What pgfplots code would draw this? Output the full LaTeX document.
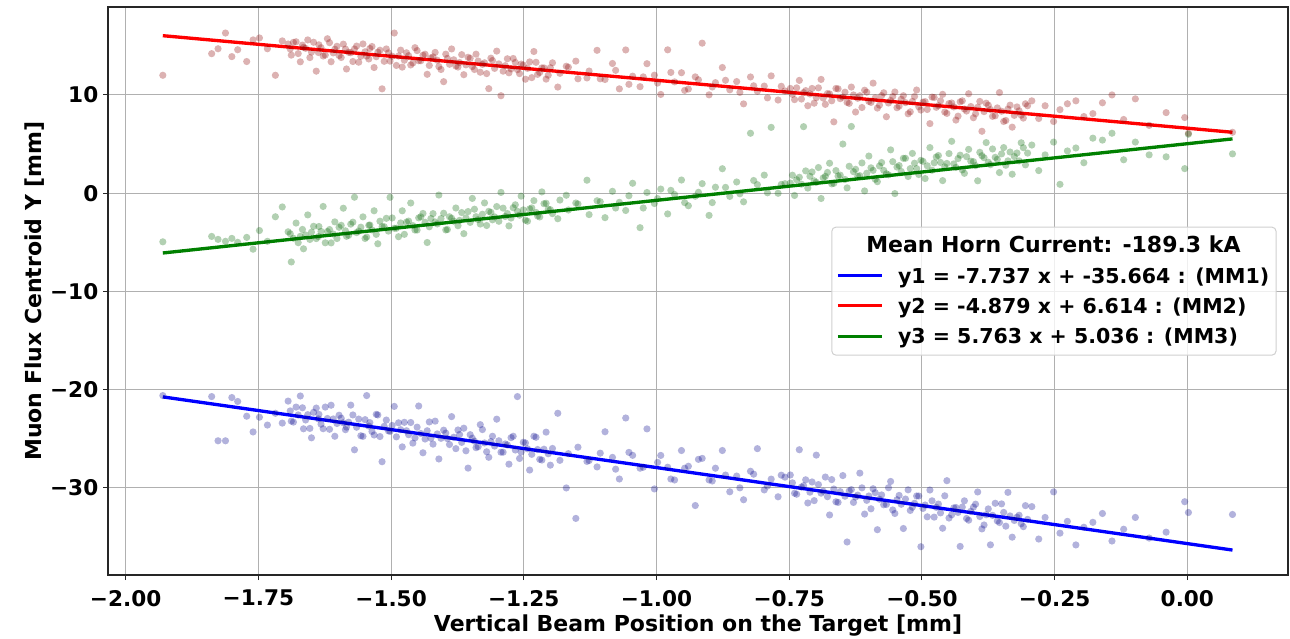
\documentclass[border=0pt]{standalone}
\usepackage{fontspec}
\setmainfont{DejaVu Sans}
\usepackage{pgfplots}
\usepackage{pgfplotstable}
\pgfplotsset{compat=1.18}
\definecolor{dkblue}{HTML}{00008B}
\definecolor{dkred}{HTML}{8B0000}
\definecolor{dkgreen}{HTML}{006400}
\definecolor{fitgreen}{HTML}{008000}
\definecolor{gridgray}{HTML}{B0B0B0}
\pgfplotstableread{
x b r g
-1.930 -20.6 12.0 -4.95
-1.838 -20.7 14.2 -4.4
-1.826 -25.2 14.7 -4.7
-1.812 -25.2 16.3 -4.9
-1.800 -20.8 13.9 -4.6
-1.789 -21.2 14.6 -5.0
-1.772 -22.7 13.4 -4.5
-1.760 -24.3 15.6 -5.7
-1.748 -22.8 15.8 -3.8
-1.733 -23.6 14.7 -4.9
-1.718 -22.4 12.0 -2.4
-1.705 -23.4 15.5 -1.4
-1.694 -21.16 15.18 -3.93
-1.688 -23.20 14.05 -7.00
-1.679 -21.77 15.41 -3.04
-1.671 -20.64 13.37 -4.39
-1.665 -23.98 14.84 -5.66
-1.657 -22.54 15.60 -2.21
-1.650 -24.90 14.36 -3.97
-1.641 -21.87 12.42 -4.62
-1.636 -22.51 15.10 -3.39
-1.628 -23.97 13.96 -1.35
-1.620 -22.93 15.72 -3.90
-1.613 -21.58 13.38 -5.06
-1.606 -24.74 14.65 -2.92
-1.598 -22.60 14.01 -3.47
-1.590 -23.37 15.17 -1.53
-1.584 -23.81 12.64 -4.39
-1.576 -21.57 14.30 -3.15
-1.569 -26.12 14.67 -0.41
-1.561 -22.99 13.33 -3.86
-1.553 -24.75 15.19 -2.41
-1.546 -20.60 13.96 -4.47
-1.540 -23.35 14.73 -3.24
-1.532 -24.61 12.79 -1.79
-1.525 -22.57 14.35 -5.15
-1.517 -27.33 10.62 -3.41
-1.509 -23.09 14.68 -2.56
-1.502 -24.24 13.44 -0.42
-1.494 -21.70 16.30 -3.57
-1.486 -23.37 13.96 -4.43
-1.479 -25.82 12.83 -1.79
-1.471 -24.18 14.29 -2.94
-1.463 -23.34 13.05 -1.00
-1.455 -24.91 14.81 -3.75
-1.448 -21.66 13.48 -2.51
-1.440 -26.42 14.04 -2.06
-1.432 -24.18 12.10 -5.02
-1.425 -24.94 13.77 -2.58
-1.417 -23.20 14.33 -2.93
-1.410 -27.05 12.89 -0.19
-1.401 -24.12 11.35 -2.04
-1.394 -24.98 13.72 -3.70
-1.386 -22.74 14.68 -2.55
-1.378 -26.00 12.94 -1.51
-1.371 -24.56 13.30 -2.77
-1.363 -23.92 12.06 -4.12
-1.355 -27.98 13.83 -1.87
-1.347 -24.94 12.89 -0.53
-1.340 -25.90 14.15 -2.39
-1.332 -23.56 12.31 -3.14
-1.324 -25.42 13.27 -0.99
-1.316 -26.88 10.64 -1.85
-1.309 -24.74 13.50 -2.71
-1.301 -23.00 14.46 -1.36
-1.293 -26.36 9.92 0.08
-1.285 -25.52 12.98 -2.37
-1.278 -27.58 12.25 -3.33
-1.270 -24.74 13.71 -1.48
-1.262 -20.70 12.57 -1.84
-1.255 -26.35 13.14 -0.30
-1.247 -25.42 11.60 -2.75
-1.239 -28.18 13.36 -1.60
-1.231 -24.74 14.42 -0.76
-1.224 -26.09 12.09 -2.32
-1.216 -27.16 12.75 0.13
-1.208 -24.32 11.61 -1.03
-1.200 -27.68 12.77 -1.68
-1.186 -22.40 10.80 -2.60
-1.170 -30.00 12.92 -0.21
-1.152 -33.10 13.44 -1.00
-1.131 -27.30 11.73 1.32
-1.112 -27.86 14.54 -0.77
-1.097 -24.28 11.57 -2.49
-1.083 -26.89 13.20 0.19
-1.070 -29.09 10.62 -0.93
-1.058 -22.88 14.58 -1.76
-1.045 -26.68 11.91 1.01
-1.031 -27.99 10.84 -3.51
-1.018 -23.99 13.18 0.07
-1.004 -30.10 12.01 -1.05
-0.992 -26.69 10.05 0.42
-0.979 -27.89 14.59 -2.11
-0.966 -29.19 11.33 -0.13
-0.953 -26.19 12.26 1.34
-0.940 -27.79 10.60 -1.28
-0.927 -31.79 11.84 -0.31
-0.914 -26.99 15.27 0.97
-0.901 -29.19 10.01 -2.26
-0.889 -27.99 11.25 0.61
-0.876 -26.19 12.79 2.49
-0.862 -30.39 10.52 -0.33
-0.849 -28.79 11.36 1.14
-0.836 -31.20 9.09 -0.88
-0.823 -28.30 11.83 6.10
-0.810 -26.00 10.37 0.87
-0.797 -30.20 10.90 1.84
-0.784 -29.10 11.94 6.70
-0.771 -30.90 9.48 -0.01
-0.758 -28.90 10.41 0.97
-0.748 -28.68 10.66 1.03
-0.740 -30.54 9.52 -0.23
-0.731 -26.11 11.48 1.62
-0.723 -29.77 10.24 6.77
-0.715 -31.53 8.90 0.52
-0.707 -29.39 10.66 2.16
-0.699 -26.66 9.72 1.11
-0.690 -30.53 11.58 -0.54
-0.682 -28.89 9.04 1.71
-0.674 -32.75 10.10 3.05
-0.666 -30.11 7.26 1.00
-0.658 -31.47 10.62 1.74
-0.649 -28.74 9.78 5.00
-0.641 -35.50 9.24 0.54
-0.633 -30.17 10.80 6.79
-0.625 -30.93 8.26 2.43
-0.617 -28.49 9.92 1.78
-0.608 -32.66 10.48 0.23
-0.600 -30.82 9.34 3.78
-0.592 -30.08 11.20 2.32
-0.584 -34.25 8.66 1.17
-0.576 -30.71 9.92 3.12
-0.567 -31.68 7.78 1.97
-0.559 -29.34 9.44 4.41
-0.551 -32.60 10.30 -0.04
-0.543 -30.76 8.86 2.81
-0.535 -34.13 9.92 3.55
-0.526 -30.19 8.08 1.70
-0.518 -31.96 9.34 4.05
-0.510 -30.82 10.50 2.50
-0.502 -35.98 8.46 3.34
-0.494 -31.74 9.32 1.49
-0.485 -30.21 7.08 4.64
-0.477 -32.97 9.74 3.09
-0.469 -31.64 8.90 3.83
-0.461 -34.10 10.06 1.28
-0.453 -29.26 8.12 3.03
-0.444 -32.73 9.18 5.28
-0.436 -31.99 7.44 2.62
-0.428 -35.95 9.30 3.87
-0.420 -31.31 8.56 2.02
-0.412 -33.28 10.12 4.46
-0.403 -31.95 7.68 3.21
-0.395 -30.41 8.74 1.26
-0.387 -34.17 6.30 3.81
-0.379 -32.73 9.16 5.15
-0.371 -35.79 8.52 2.90
-0.362 -31.56 7.88 3.65
-0.354 -33.52 10.24 2.10
-0.346 -32.49 7.30 4.64
-0.338 -30.45 8.56 3.29
-0.330 -35.01 6.72 1.93
-0.321 -32.98 8.78 4.09
-0.313 -33.64 7.94 5.13
-0.305 -31.80 9.10 2.88
-0.293 -31.9 9.4 4.9
-0.280 -35.2 7.6 2.3
-0.268 -33.0 8.9 3.9
-0.252 -30.4 7.3 5.2
-0.240 -34.6 8.5 0.9
-0.226 -33.4 9.1 4.3
-0.210 -35.8 9.4 4.6
-0.195 -34.0 7.8 3.1
-0.178 -33.5 8.1 5.6
-0.160 -32.6 9.2 5.4
-0.142 -35.4 10.0 6.1
-0.120 -34.2 7.5 3.4
-0.098 -33.0 9.6 5.2
-0.072 -35.1 6.9 3.9
-0.040 -34.5 8.2 3.7
-0.005 -31.4 7.7 2.5
0.002 -32.5 6.1 6.0
0.085 -32.7 6.2 4.0
-1.690 -22.16 14.68 -4.13
-1.684 -23.30 15.35 -4.59
-1.675 -22.57 14.21 -5.04
-1.667 -21.84 15.07 -3.69
-1.661 -23.08 14.74 -4.26
-1.653 -23.94 13.80 -4.71
-1.646 -22.30 15.36 -3.37
-1.637 -22.97 14.32 -4.42
-1.632 -23.51 14.80 -3.89
-1.624 -21.77 14.06 -5.05
-1.616 -24.03 15.32 -3.70
-1.609 -22.98 14.28 -4.16
-1.602 -23.44 14.95 -4.62
-1.594 -22.90 13.81 -3.27
-1.586 -24.07 14.67 -3.83
-1.580 -23.31 14.34 -4.29
-1.572 -22.57 13.40 -2.95
-1.565 -23.82 14.97 -4.01
-1.557 -24.69 13.93 -3.46
-1.549 -23.05 14.39 -4.61
-1.542 -23.70 13.66 -3.27
-1.536 -24.25 14.93 -3.74
-1.528 -22.51 13.89 -4.19
-1.521 -24.77 14.55 -2.85
-1.513 -23.73 13.42 -3.41
-1.505 -24.19 14.28 -3.86
-1.498 -23.64 13.94 -2.52
-1.490 -24.80 13.00 -3.57
-1.482 -24.07 14.56 -3.03
-1.475 -23.32 13.53 -4.19
-1.467 -24.58 13.99 -2.84
-1.459 -25.44 13.25 -3.30
-1.451 -23.81 14.51 -3.75
-1.444 -24.46 13.48 -2.41
-1.436 -25.02 14.14 -2.96
-1.428 -23.28 13.00 -3.42
-1.421 -25.54 13.87 -2.08
-1.413 -24.50 13.53 -3.13
-1.406 -24.95 12.59 -2.59
-1.397 -24.42 14.15 -3.74
-1.390 -25.58 13.12 -2.40
-1.382 -24.84 13.58 -2.85
-1.374 -24.10 12.84 -3.31
-1.367 -25.36 14.10 -1.97
-1.359 -26.22 13.06 -2.52
-1.351 -24.58 13.73 -2.97
-1.343 -25.24 12.59 -1.63
-1.336 -25.80 13.45 -2.69
-1.328 -24.06 13.11 -2.14
-1.320 -26.32 12.17 -3.29
-1.312 -25.28 13.74 -1.95
-1.305 -25.74 12.70 -2.41
-1.297 -25.20 13.16 -2.86
-1.289 -26.36 12.42 -1.52
-1.281 -25.62 13.68 -2.07
-1.274 -24.88 12.65 -2.53
-1.266 -26.14 13.31 -1.18
-1.258 -27.00 12.17 -2.24
-1.251 -25.35 13.04 -1.70
-1.243 -26.02 12.70 -2.85
-1.235 -26.58 11.76 -1.50
-1.227 -24.84 13.32 -1.96
-1.220 -27.09 12.29 -2.42
-1.212 -26.06 12.75 -1.07
-1.204 -26.52 12.01 -1.63
-1.196 -25.98 13.27 -2.08
-1.182 -27.19 12.20 -0.70
-1.166 -26.51 12.82 -1.71
-1.148 -25.85 11.64 -1.10
-1.127 -27.21 12.43 -2.18
-1.106 -26.46 11.64 -0.87
-1.077 -28.09 12.50 -1.51
-1.052 -26.38 11.08 -0.26
-1.025 -27.89 11.84 -1.51
-0.998 -27.40 11.21 -0.55
-0.973 -29.09 12.29 0.29
-0.947 -27.99 10.46 -0.96
-0.921 -27.09 11.54 0.09
-0.895 -29.29 10.81 -0.96
-0.870 -28.69 11.49 0.59
-0.843 -29.99 10.26 -0.06
-0.817 -28.60 10.93 1.29
-0.791 -29.80 9.70 0.04
-0.765 -28.70 10.88 0.89
-0.744 -29.48 10.06 1.83
-0.736 -30.64 10.72 1.37
-0.727 -29.91 9.58 0.92
-0.719 -29.17 10.44 2.27
-0.711 -30.43 10.10 1.72
-0.703 -31.29 9.16 1.26
-0.695 -29.66 10.72 2.61
-0.686 -30.33 9.68 1.56
-0.678 -30.89 10.14 2.11
-0.670 -29.15 9.40 0.95
-0.662 -31.41 10.66 2.30
-0.654 -30.37 9.62 1.84
-0.645 -30.84 10.28 1.40
-0.637 -30.30 9.14 2.74
-0.629 -31.47 10.00 2.19
-0.621 -30.73 9.66 1.73
-0.613 -29.99 8.72 3.08
-0.604 -31.26 10.28 2.03
-0.596 -32.12 9.24 2.58
-0.588 -30.48 9.70 1.42
-0.580 -31.15 8.96 2.77
-0.572 -31.71 10.22 2.32
-0.563 -29.98 9.18 1.87
-0.555 -32.24 9.84 3.21
-0.547 -31.20 8.70 2.66
-0.539 -31.66 9.56 2.21
-0.531 -31.13 9.22 3.55
-0.522 -32.29 8.28 2.50
-0.514 -31.56 9.84 3.05
-0.506 -30.82 8.80 1.90
-0.498 -32.08 9.26 3.24
-0.490 -32.94 8.52 2.79
-0.481 -31.31 9.78 2.34
-0.473 -31.97 8.74 3.69
-0.465 -32.54 9.40 3.13
-0.457 -30.80 8.26 2.68
-0.449 -33.06 9.12 4.03
-0.440 -32.03 8.78 2.98
-0.432 -32.49 7.84 3.52
-0.424 -31.95 9.40 2.37
-0.416 -33.11 8.36 3.72
-0.408 -32.38 8.82 3.26
-0.399 -31.65 8.08 2.81
-0.391 -32.91 9.34 4.16
-0.383 -33.77 8.30 3.61
-0.375 -32.13 8.96 3.15
-0.367 -32.79 7.82 4.50
-0.358 -33.36 8.68 3.45
-0.350 -31.62 8.34 4.00
-0.342 -33.89 7.40 2.84
-0.334 -32.85 8.96 4.19
-0.326 -33.31 7.92 3.73
-0.317 -32.78 8.38 3.29
-0.309 -33.94 7.64 4.63
-0.301 -33.20 8.90 4.08
}\data
\begin{document}
\begin{tikzpicture}
\begin{axis}[
  scale only axis, width=885pt, height=426pt,
  xmin=-2.0333, xmax=0.1896, ymin=-38.86, ymax=18.95,
  xtick={-2,-1.75,-1.5,-1.25,-1,-0.75,-0.5,-0.25,0},
  xticklabels={−2.00,−1.75,−1.50,−1.25,−1.00,−0.75,−0.50,−0.25,0.00},
  ytick={-30,-20,-10,0,10},
  yticklabels={−30,−20,−10,0,10},
  grid=major, grid style={color=gridgray, line width=0.75pt},
  axis line style={black!85, line width=0.8pt},
  tick align=outside, tick pos=left, major tick length=3.75pt,
  tick style={black!85, line width=0.8pt},
  ticklabel style={font=\bfseries\fontsize{16.2}{19}\selectfont},
  xticklabel style={yshift=-4pt},
  xlabel={Vertical Beam Position on the Target [mm]},
  ylabel={Muon Flux Centroid Y [mm]},
  xlabel style={font=\bfseries\fontsize{16.5}{19}\selectfont, at={(axis description cs:0.5,-0.1000)}, anchor=base},
  ylabel style={font=\bfseries\fontsize{16.5}{19}\selectfont, at={(axis description cs:-0.0565,0.5)}, anchor=base, rotate=0},
  clip=true,
]
\addplot[only marks, mark=*, mark size=2.7pt, mark options={draw opacity=0, fill=dkblue, fill opacity=0.3}] table[x=x,y=b]{\data};
\addplot[only marks, mark=*, mark size=2.7pt, mark options={draw opacity=0, fill=dkred, fill opacity=0.3}] table[x=x,y=r]{\data};
\addplot[only marks, mark=*, mark size=2.7pt, mark options={draw opacity=0, fill=dkgreen, fill opacity=0.3}] table[x=x,y=g]{\data};
\addplot[blue, line width=2.5pt] coordinates {(-1.93,-20.731) (0.085,-36.322)};
\addplot[red, line width=2.5pt] coordinates {(-1.93,16.030) (0.085,6.199)};
\addplot[fitgreen, line width=2.5pt] coordinates {(-1.93,-6.087) (0.085,5.526)};
% legend
\draw[gridgray!60, line width=0.75pt, rounded corners=3pt, fill=white, fill opacity=0.8] (axis cs:-0.6697,-3.46) rectangle (axis cs:0.167,-16.48);
\node[anchor=base, font=\bfseries\fontsize{16.5}{19}\selectfont] at (axis cs:-0.2523,-6.00) {Mean Horn Current: -189.3 kA};
\draw[blue, line width=2.25pt] (axis cs:-0.6585,-8.342) -- (axis cs:-0.5756,-8.342);
\draw[red, line width=2.25pt] (axis cs:-0.6585,-11.465) -- (axis cs:-0.5756,-11.465);
\draw[fitgreen, line width=2.25pt] (axis cs:-0.6585,-14.547) -- (axis cs:-0.5756,-14.547);
\node[anchor=base west, inner sep=0pt, font=\bfseries\fontsize{15.4}{18}\selectfont] at (axis cs:-0.5455,-9.156) {y1 = -7.737 x + -35.664 : (MM1)};
\node[anchor=base west, inner sep=0pt, font=\bfseries\fontsize{15.4}{18}\selectfont] at (axis cs:-0.5455,-12.208) {y2 = -4.879 x + 6.614 : (MM2)};
\node[anchor=base west, inner sep=0pt, font=\bfseries\fontsize{15.4}{18}\selectfont] at (axis cs:-0.5455,-15.259) {y3 = 5.763 x + 5.036 : (MM3)};
\end{axis}
\pgfresetboundingbox
\path[use as bounding box] ([xshift=-81pt,yshift=-47.25pt]current axis.south west) rectangle ([xshift=1.5pt,yshift=5.25pt]current axis.north east);
\end{tikzpicture}
\end{document}
